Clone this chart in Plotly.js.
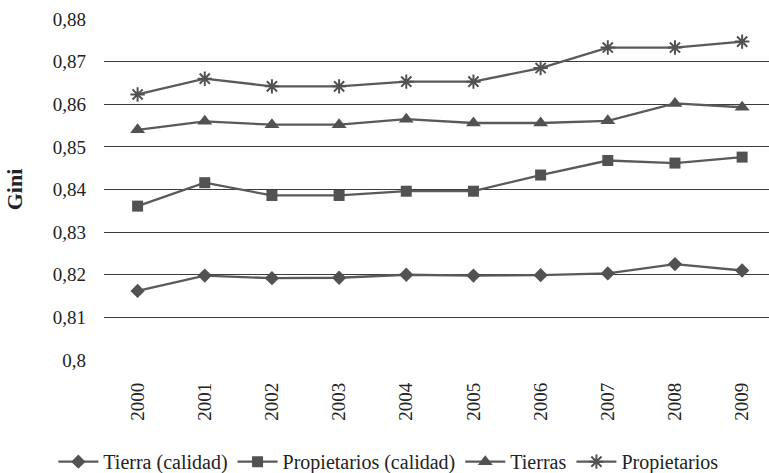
<!DOCTYPE html>
<html>
<head>
<meta charset="utf-8">
<script src="https://cdn.plot.ly/plotly-3.0.1.min.js"></script>
<style>html,body{margin:0;padding:0;background:#fff;}#chart{width:769px;height:473px;}</style>
</head>
<body>
<div id="chart"></div>
<script>
const years = ['2000','2001','2002','2003','2004','2005','2006','2007','2008','2009'];
const tierraCalidad = [0.8162, 0.8198, 0.8192, 0.8193, 0.8200, 0.8198, 0.8199, 0.8203, 0.8225, 0.8210];
const propietariosCalidad = [0.8361, 0.8416, 0.8386, 0.8386, 0.8396, 0.8396, 0.8434, 0.8468, 0.8462, 0.8476];
const tierras = [0.8540, 0.8560, 0.8552, 0.8552, 0.8565, 0.8556, 0.8556, 0.8561, 0.8602, 0.8593];
const propietarios = [0.8623, 0.8660, 0.8642, 0.8642, 0.8653, 0.8653, 0.8685, 0.8733, 0.8733, 0.8747];
const seriesNames = ['Tierra (calidad)', 'Propietarios (calidad)', 'Tierras', 'Propietarios'];
const yTicks = [0.80, 0.81, 0.82, 0.83, 0.84, 0.85, 0.86, 0.87, 0.88];
const yTickText = ['0,8', '0,81', '0,82', '0,83', '0,84', '0,85', '0,86', '0,87', '0,88'];

const lineColor = '#5a5a5a';
const markerColor = '#525252';
function mk(name, ys, symbol, size) {
  return {
    type: 'scatter', mode: 'lines+markers', name: name, x: years, y: ys,
    line: {color: lineColor, width: 2.3},
    marker: {symbol: symbol, size: size, color: markerColor, line: {color: markerColor, width: 0}}
  };
}
const data = [
  mk(seriesNames[0], tierraCalidad, 'diamond', 11),
  mk(seriesNames[1], propietariosCalidad, 'square', 11),
  mk(seriesNames[2], tierras, 'triangle-up', 13),
  mk(seriesNames[3], propietarios, 'asterisk-open', 12),
];
data[3].marker.line = {color: markerColor, width: 2};

const serif = 'Liberation Serif';
const layout = {
  width: 769, height: 473,
  margin: {l: 104, r: 0, t: 19, b: 113, autoexpand: false},
  paper_bgcolor: '#fff', plot_bgcolor: '#fff',
  showlegend: true,
  font: {family: serif, color: '#222', size: 19},
  xaxis: {
    type: 'category', range: [-0.5, 9.4],
    showgrid: false, zeroline: false, showline: false,
    tickangle: -90, tickfont: {family: serif, size: 19, color: '#222'},
    ticklabelstandoff: 18, fixedrange: true
  },
  yaxis: {
    range: [0.80, 0.88], tickvals: yTicks, ticktext: yTickText,
    showgrid: true, gridcolor: '#3c3c3c', gridwidth: 1.2,
    zeroline: false, showline: false,
    tickfont: {family: serif, size: 19, color: '#222'},
    ticklabelstandoff: 17,
    title: {text: '<b>Gini</b>', font: {family: serif, size: 22, color: '#222'}, standoff: 24},
    fixedrange: true
  },
  legend: {
    orientation: 'h', xref: 'container', yref: 'container',
    x: 0.505, xanchor: 'center', y: 0.024, yanchor: 'middle',
    font: {family: serif, size: 20, color: '#222'},
    itemwidth: 40, tracegroupgap: 0, itemclick: false
  }
};
Plotly.newPlot('chart', data, layout, {displayModeBar: false, staticPlot: true});
</script>
</body>
</html>
